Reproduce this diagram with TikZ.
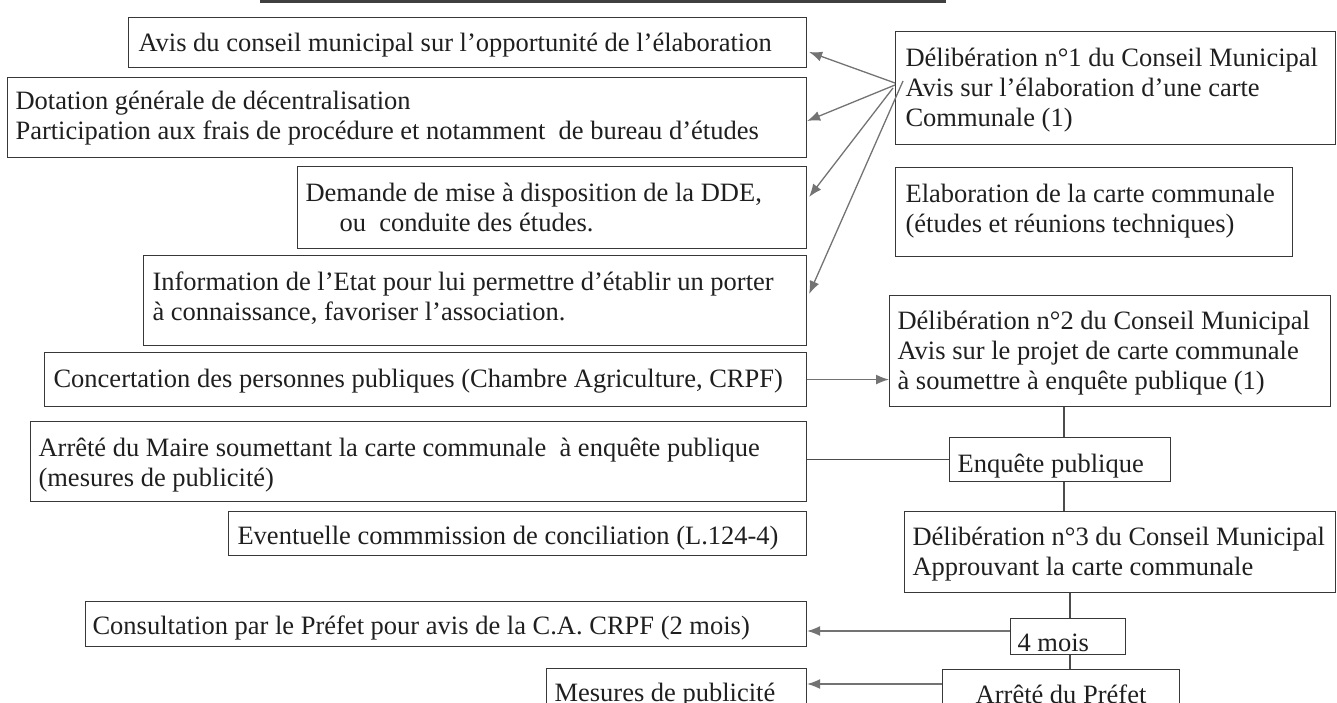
\documentclass[tikz,border=0pt]{standalone}
\usepackage{fontspec}
\setmainfont{Liberation Serif}
\usetikzlibrary{arrows.meta,calc}
\newcommand\mytext[5]{\parbox[b][#2][t]{#1}{\raggedright\leftskip=#3\rightskip=-200pt plus 1fil\rule{0pt}{#4}#5}}
\newcommand\myctext[4]{\parbox[b][#2][t]{#1}{\centering\rule{0pt}{#3}#4}}
\begin{document}
\begin{tikzpicture}[x=1pt,y=-1pt,
  bx/.style={draw=black!78, line width=1.1pt, inner sep=0pt, anchor=north west,
    font=\fontsize{26.5}{30}\selectfont, text=black!88},
  arr/.style={draw=black!55, line width=1.3pt, -{Latex[length=13pt,width=10pt]}},
  lnk/.style={draw=black!70, line width=1.1pt}]
\useasboundingbox (0,0) rectangle (1337,703);
\draw[line width=2.2pt, black!75] (260,1.5) -- (946,1.5);
% left column
\node[bx] (a) at (128,17) {\mytext{678pt}{50pt}{10pt}{34pt}{Avis du conseil municipal sur l’opportunité de l’élaboration}};
\node[bx] (b) at (7,77) {\mytext{799pt}{80pt}{8pt}{32pt}{Dotation générale de décentralisation\\Participation aux frais de procédure et notamment\ \ de bureau d’études}};
\node[bx] (c) at (297,166) {\mytext{509pt}{82pt}{8pt}{35pt}{Demande de mise à disposition de la DDE,\\\hspace*{34pt}ou\ \ conduite des études.}};
\node[bx] (d) at (143,255) {\mytext{663pt}{90pt}{9pt}{35pt}{Information de l’Etat pour lui permettre d’établir un porter\\à connaissance, favoriser l’association.}};
\node[bx] (e) at (44,352) {\mytext{762pt}{54pt}{9pt}{35pt}{Concertation des personnes publiques (Chambre Agriculture, CRPF)}};
\node[bx] (f) at (30,421) {\mytext{776pt}{80pt}{8pt}{35pt}{Arrêté du Maire soumettant la carte communale\ \ à enquête publique\\(mesures de publicité)}};
\node[bx] (g) at (228,511) {\mytext{578pt}{44pt}{9pt}{33pt}{Eventuelle commmission de conciliation (L.124-4)}};
\node[bx] (cons) at (85,601) {\mytext{721pt}{45pt}{7pt}{33pt}{Consultation par le Préfet pour avis de la C.A. CRPF (2 mois)}};
\node[bx] (mes) at (546,668) {\mytext{260pt}{50pt}{8pt}{33pt}{Mesures de publicité}};
% right column
\node[bx] (d1) at (895,31) {\mytext{440pt}{113pt}{10pt}{35pt}{Délibération n°1 du Conseil Municipal\\Avis sur l’élaboration d’une carte\\Communale (1)}};
\node[bx] (el) at (895,167) {\mytext{397pt}{89pt}{10pt}{35pt}{Elaboration de la carte communale\\(études et réunions techniques)}};
\node[bx] (d2) at (889,295) {\mytext{441pt}{111pt}{8pt}{34pt}{Délibération n°2 du Conseil Municipal\\Avis sur le projet de carte communale\\à soumettre à enquête publique (1)}};
\node[bx] (enq) at (949,437) {\mytext{221pt}{44pt}{8pt}{35pt}{Enquête publique}};
\node[bx] (d3) at (904,511) {\mytext{431pt}{81pt}{8pt}{34pt}{Délibération n°3 du Conseil Municipal\\Approuvant la carte communale}};
\node[bx] (m4) at (1010,618) {\mytext{115pt}{36pt}{7pt}{33pt}{4 mois}};
\node[bx] (pf) at (942,669) {\myctext{237pt}{50pt}{34pt}{Arrêté du Préfet}};
% connectors from deliberation 1
\draw[arr] ($(d1.north west)+(0,52)$) -- ($(a.north east)+(2,35)$);
\draw[arr] ($(d1.north west)+(0,54)$) -- ($(b.north east)+(0,44)$);
\draw[arr] ($(d1.north west)+(-2,57)$) -- ($(c.north east)+(2,31)$);
\draw[arr] ($(d1.north west)+(8,50)$) -- ($(d.north east)+(2,39)$);
% concertation to deliberation 2
\draw[arr] (e.east) -- (e.east -| d2.west);
% arrete du maire to enquete
\draw[lnk] (f.east |- enq.west) -- (enq.west);
% vertical chain
\coordinate (v1) at ([xshift=115pt]enq.north west);
\draw[lnk] (v1) -- (v1 |- d2.south);
\coordinate (v2) at ([xshift=115pt]enq.south west);
\draw[lnk] (v2) -- (v2 |- d3.north);
\coordinate (v3) at ([xshift=60pt]m4.north west);
\draw[lnk] (v3 |- d3.south) -- (v3);
\coordinate (v4) at ([xshift=60pt]m4.south west);
\draw[lnk] (v4) -- (v4 |- pf.north);
% 4 mois to consultation, prefet to mesures
\coordinate (h1) at ([yshift=-13pt]m4.north west);
\draw[arr] (h1) -- (h1 -| cons.east);
\coordinate (h2) at ([yshift=-15pt]pf.north west);
\draw[arr] (h2) -- (h2 -| mes.east);
\end{tikzpicture}
\end{document}
